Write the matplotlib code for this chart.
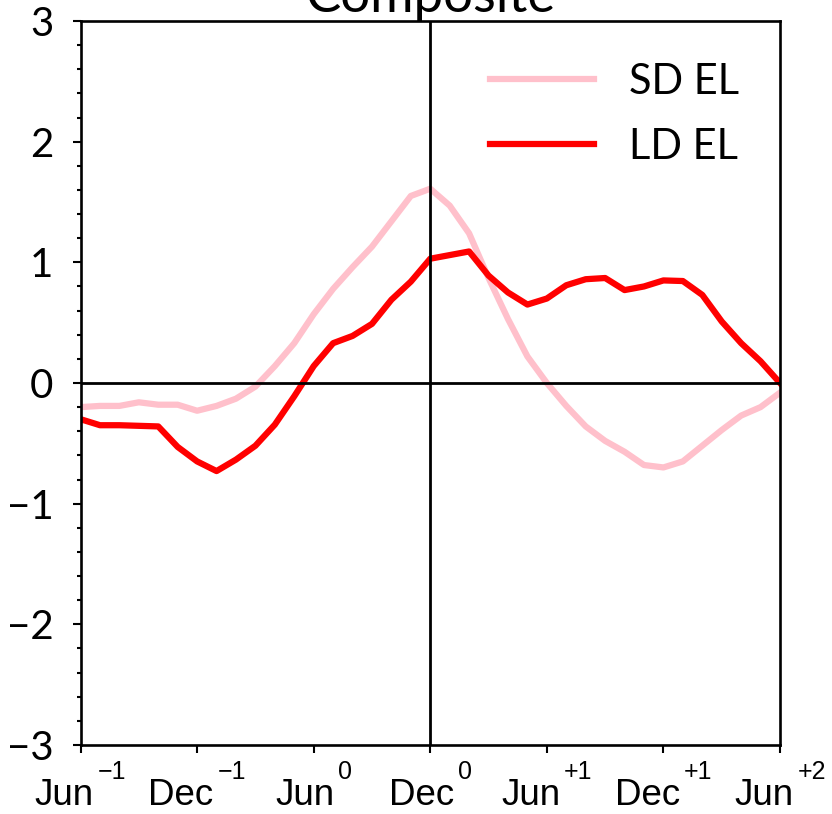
import numpy as np
import matplotlib
matplotlib.use('Agg')
import matplotlib.pyplot as plt
from matplotlib.ticker import MultipleLocator

# Monthly composite, Jun(-1) .. Jun(+2)
months = np.arange(37)

sd_el = [-0.20, -0.19, -0.19, -0.16, -0.18, -0.18, -0.23, -0.19, -0.13, -0.03,
         0.14, 0.33, 0.57, 0.78, 0.96, 1.13, 1.34, 1.55, 1.61, 1.47,
         1.24, 0.87, 0.53, 0.22, 0.00, -0.19, -0.36, -0.48, -0.57, -0.68,
         -0.70, -0.65, -0.52, -0.39, -0.27, -0.20, -0.08]

ld_el = [-0.30, -0.35, -0.35, -0.355, -0.36, -0.53, -0.65, -0.73, -0.635, -0.52,
         -0.345, -0.11, 0.14, 0.33, 0.39, 0.49, 0.69, 0.84, 1.03, 1.06,
         1.09, 0.89, 0.75, 0.65, 0.70, 0.81, 0.86, 0.87, 0.77, 0.80,
         0.85, 0.845, 0.73, 0.51, 0.33, 0.18, 0.0]

xtick_pos = [0, 6, 12, 18, 24, 30, 36]
xtick_words = ['Jun', 'Dec', 'Jun', 'Dec', 'Jun', 'Dec', 'Jun']
xtick_years = ['\u22121', '\u22121', '0', '0', '+1', '+1', '+2']

fig = plt.figure(figsize=(8.32, 8.14), dpi=100)
ax = fig.add_axes([0.0968, 0.0848, 0.8407, 0.8894])

ax.plot(months, sd_el, color='pink', lw=4.5, label='SD EL')
ax.plot(months, ld_el, color='red', lw=4.5, label='LD EL')
ax.axhline(0, color='black', lw=2)
ax.axvline(18, color='black', lw=2)

ax.set_xlim(0, 36)
ax.set_ylim(-3, 3)
ax.set_xticks(xtick_pos)
ax.set_xticklabels([])
ax.yaxis.set_major_locator(MultipleLocator(1))
ax.yaxis.set_minor_locator(MultipleLocator(0.2))
for lab in ax.get_yticklabels():
    lab.set_family('Lato')
    lab.set_fontsize(29)

ax.tick_params(axis='both', which='major', length=5.8, width=1.5, direction='out')
ax.tick_params(axis='y', which='minor', length=2.9, width=1.5)
ax.tick_params(axis='y', pad=13.7)
for s in ax.spines.values():
    s.set_linewidth(1.9)

ax.set_title('Composite', fontsize=38, family='Lato', pad=5)

ax.legend(loc='upper right', frameon=False, prop={'family': 'Lato', 'size': 30},
          handlelength=2.5, handletextpad=0.85, labelspacing=0.65,
          borderaxespad=0, bbox_to_anchor=(0.966, 0.9655))

# x labels: month name with the year as a raised superscript
fig.canvas.draw()
rend = fig.canvas.get_renderer()
for pos, word, yr in zip(xtick_pos, xtick_words, xtick_years):
    t1 = ax.annotate(word, xy=(pos, 0), xycoords=('data', 'axes fraction'),
                     xytext=(0, -60), textcoords='offset pixels',
                     ha='left', va='baseline', fontsize=26.5, family='Liberation Sans')
    t2 = ax.annotate(yr, xy=(pos, 0), xycoords=('data', 'axes fraction'),
                     xytext=(0, -34), textcoords='offset pixels',
                     ha='left', va='baseline', fontsize=18, family='Liberation Sans')
    w1 = t1.get_window_extent(rend).width
    w2 = t2.get_window_extent(rend).width
    gap = 4
    x0 = -(w1 + gap + w2) / 2
    t1.xyann = (x0, -60)
    t2.xyann = (x0 + w1 + gap, -34)

fig.savefig('out.png', dpi=100)
